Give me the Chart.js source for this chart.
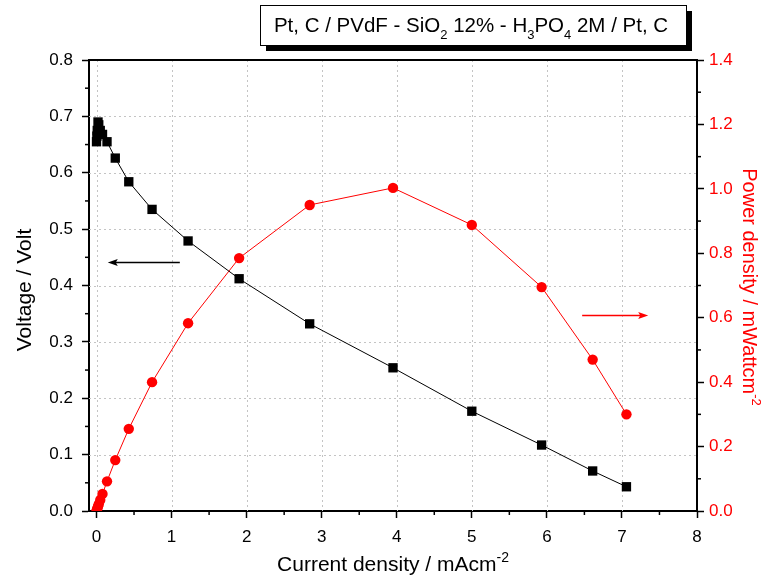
<!DOCTYPE html>
<html><head><meta charset="utf-8">
<script src="https://cdn.jsdelivr.net/npm/chart.js@4.4.1/dist/chart.umd.min.js"></script>
<style>html,body{margin:0;padding:0;background:#fff;overflow:hidden}#wrap{width:771px;height:577px;position:relative}</style>
</head><body><div id="wrap"><canvas id="c" width="771" height="577"></canvas></div>
<script>
// ---- data ----
const currentDensity = [0, 0.005, 0.01, 0.02, 0.03, 0.05, 0.08, 0.14, 0.25, 0.43, 0.74, 1.22, 1.90, 2.84, 3.95, 5.00, 5.93, 6.61, 7.06];
const voltage = [0.655, 0.665, 0.675, 0.690, 0.685, 0.675, 0.668, 0.655, 0.626, 0.584, 0.535, 0.479, 0.412, 0.332, 0.254, 0.177, 0.117, 0.071, 0.043];
const powerDensity = [0, 0.003, 0.007, 0.014, 0.021, 0.034, 0.053, 0.092, 0.158, 0.255, 0.400, 0.583, 0.785, 0.950, 1.003, 0.888, 0.695, 0.470, 0.300];
const xTicks = [0, 1, 2, 3, 4, 5, 6, 7, 8];
const voltageTicks = [0, 0.1, 0.2, 0.3, 0.4, 0.5, 0.6, 0.7, 0.8];
const powerTicks = [0, 0.2, 0.4, 0.6, 0.8, 1.0, 1.2, 1.4];
const xMinorTicks = [0.5, 1.5, 2.5, 3.5, 4.5, 5.5, 6.5, 7.5];
const voltageMinorTicks = [0.05, 0.15, 0.25, 0.35, 0.45, 0.55, 0.65, 0.75];
const powerMinorTicks = [0.1, 0.3, 0.5, 0.7, 0.9, 1.1, 1.3];
const titleParts = [['Pt, C / PVdF - SiO', ''], ['2', 'sub'], [' 12% - H', ''], ['3', 'sub'], ['PO', ''], ['4', 'sub'], [' 2M / Pt, C', '']];
const xTitleParts = [['Current density / mAcm', ''], ['-2', 'sup']];
const yTitleParts = [['Voltage / Volt', '']];
const y1TitleParts = [['Power density / mWattcm', ''], ['-2', 'sup']];
// arrows in data coordinates: [x from, x to, y value]
const voltageArrow = [1.11, 0.15, 0.442];
const powerArrow = [6.47, 7.35, 0.608];

const FONT = '"Liberation Sans", Arial, Helvetica, sans-serif';

function richWidth(ctx, parts, size) {
  let w = 0;
  for (const [t, k] of parts) {
    ctx.font = (k ? Math.round(size * 0.65) : size) + 'px ' + FONT;
    w += ctx.measureText(t).width;
  }
  return w;
}
function drawRich(ctx, parts, x, y, size, color, center) {
  ctx.fillStyle = color;
  ctx.textBaseline = 'alphabetic';
  ctx.textAlign = 'left';
  let cx = center ? x - richWidth(ctx, parts, size) / 2 : x;
  for (const [t, k] of parts) {
    const s = k ? Math.round(size * 0.65) : size;
    ctx.font = s + 'px ' + FONT;
    const dy = k === 'sub' ? size * 0.32 : (k === 'sup' ? -size * 0.45 : 0);
    ctx.fillText(t, cx, y + dy);
    cx += ctx.measureText(t).width;
  }
}
function arrow(ctx, x1, x2, y, color) {
  ctx.save();
  ctx.strokeStyle = color; ctx.fillStyle = color; ctx.lineWidth = 1.3;
  const dir = Math.sign(x2 - x1);
  ctx.beginPath(); ctx.moveTo(x1, y); ctx.lineTo(x2 - dir * 6, y); ctx.stroke();
  ctx.beginPath(); ctx.moveTo(x2, y); ctx.lineTo(x2 - dir * 10, y - 3.5); ctx.lineTo(x2 - dir * 8, y); ctx.lineTo(x2 - dir * 10, y + 3.5); ctx.closePath(); ctx.fill();
  ctx.restore();
}

const decor = {
  id: 'decor',
  beforeDatasetsDraw(chart) {
    const {ctx, chartArea: a, scales} = chart;
    ctx.save();
    ctx.strokeStyle = '#c4c4c4'; ctx.lineWidth = 1; ctx.setLineDash([2, 3]);
    for (const v of xTicks) {
      if (v === 8) continue;
      const px = Math.round(scales.x.getPixelForValue(v)) + 0.5;
      ctx.beginPath(); ctx.moveTo(px, a.top); ctx.lineTo(px, a.bottom); ctx.stroke();
    }
    for (const v of voltageTicks) {
      if (v === 0 || v === 0.8) continue;
      const py = Math.round(scales.y.getPixelForValue(v)) + 0.5;
      ctx.beginPath(); ctx.moveTo(a.left, py); ctx.lineTo(a.right, py); ctx.stroke();
    }
    ctx.restore();
  },
  afterDraw(chart) {
    const {ctx, chartArea: a, scales} = chart;
    ctx.save();
    // top frame line
    ctx.strokeStyle = '#000'; ctx.lineWidth = 2;
    ctx.beginPath(); ctx.moveTo(a.left - 1, a.top); ctx.lineTo(a.right + 1, a.top); ctx.stroke();
    // minor ticks
    ctx.lineWidth = 1.5;
    for (const v of xMinorTicks) {
      const px = scales.x.getPixelForValue(v);
      ctx.beginPath(); ctx.moveTo(px, a.bottom); ctx.lineTo(px, a.bottom + 4); ctx.stroke();
    }
    for (const v of voltageMinorTicks) {
      const py = scales.y.getPixelForValue(v);
      ctx.beginPath(); ctx.moveTo(a.left, py); ctx.lineTo(a.left - 4, py); ctx.stroke();
    }
    for (const v of powerMinorTicks) {
      const py = scales.y1.getPixelForValue(v);
      ctx.beginPath(); ctx.moveTo(a.right, py); ctx.lineTo(a.right + 4, py); ctx.stroke();
    }
    // axis titles
    drawRich(ctx, xTitleParts, (a.left + a.right) / 2, 571, 21, '#000', true);
    ctx.save(); ctx.translate(31, 290); ctx.rotate(-Math.PI / 2);
    drawRich(ctx, yTitleParts, 0, 0, 21, '#000', true); ctx.restore();
    ctx.save(); ctx.translate(743, 287); ctx.rotate(Math.PI / 2);
    drawRich(ctx, y1TitleParts, 0, 0, 20, '#ff0000', true); ctx.restore();
    // arrows
    arrow(ctx, scales.x.getPixelForValue(voltageArrow[0]), scales.x.getPixelForValue(voltageArrow[1]), Math.round(scales.y.getPixelForValue(voltageArrow[2])) + 0.5, '#000');
    arrow(ctx, scales.x.getPixelForValue(powerArrow[0]), scales.x.getPixelForValue(powerArrow[1]), Math.round(scales.y1.getPixelForValue(powerArrow[2])) + 0.5, '#ff0000');
    // title box with shadow
    const bx = 260, by = 5, bw = 426, bh = 40;
    ctx.fillStyle = '#000'; ctx.fillRect(bx + 6, by + 6, bw, bh);
    ctx.fillStyle = '#fff'; ctx.fillRect(bx, by, bw, bh);
    ctx.strokeStyle = '#000'; ctx.lineWidth = 1; ctx.strokeRect(bx + 0.5, by + 0.5, bw, bh);
    drawRich(ctx, titleParts, bx + bw / 2 - 2, 32, 20.5, '#000', true);
    ctx.restore();
  }
};

const fix = (vals) => (scale) => { scale.ticks = vals.map(v => ({value: v})); };
const tickFont = {family: FONT, size: 17};

new Chart(document.getElementById('c'), {
  type: 'line',
  data: {
    datasets: [
      {
        label: 'Voltage',
        data: currentDensity.map((x, i) => ({x, y: voltage[i]})),
        yAxisID: 'y', borderColor: '#000', backgroundColor: '#000', borderWidth: 1,
        pointStyle: 'rect', pointRadius: 6.6, pointBorderWidth: 0, tension: 0
      },
      {
        label: 'Power density',
        data: currentDensity.map((x, i) => ({x, y: powerDensity[i]})),
        yAxisID: 'y1', borderColor: '#ff0000', backgroundColor: '#ff0000', borderWidth: 1,
        pointStyle: 'circle', pointRadius: 5.2, pointBorderWidth: 0, tension: 0
      }
    ]
  },
  options: {
    responsive: false, animation: false, devicePixelRatio: 1,
    layout: {padding: {top: 60, left: 0, right: 0, bottom: 0}},
    plugins: {legend: {display: false}, tooltip: {enabled: false}, title: {display: false}},
    scales: {
      x: {
        type: 'linear', min: -0.1, max: 8,
        afterBuildTicks: fix(xTicks),
        afterFit: (s) => { s.height = 66; },
        border: {display: true, color: '#000', width: 2},
        grid: {display: true, drawOnChartArea: false, drawTicks: true, tickLength: 7, tickWidth: 1.5, tickColor: '#000'},
        ticks: {color: '#000', font: tickFont, padding: 9, maxRotation: 0, autoSkip: false, callback: (v) => String(v)}
      },
      y: {
        type: 'linear', position: 'left', min: 0, max: 0.8,
        afterBuildTicks: fix(voltageTicks),
        afterFit: (s) => { s.width = 89; },
        border: {display: true, color: '#000', width: 2},
        grid: {display: true, drawOnChartArea: false, drawTicks: true, tickLength: 7, tickWidth: 1.5, tickColor: '#000'},
        ticks: {color: '#000', font: tickFont, padding: 9, autoSkip: false, callback: (v) => Number(v).toFixed(1)}
      },
      y1: {
        type: 'linear', position: 'right', min: 0, max: 1.4,
        afterBuildTicks: fix(powerTicks),
        afterFit: (s) => { s.width = 74; },
        border: {display: true, color: '#000', width: 2},
        grid: {display: true, drawOnChartArea: false, drawTicks: true, tickLength: 7, tickWidth: 1.5, tickColor: '#000'},
        ticks: {color: '#ff0000', font: tickFont, padding: 5, autoSkip: false, callback: (v) => Number(v).toFixed(1)}
      }
    }
  },
  plugins: [decor]
});
</script></body></html>
